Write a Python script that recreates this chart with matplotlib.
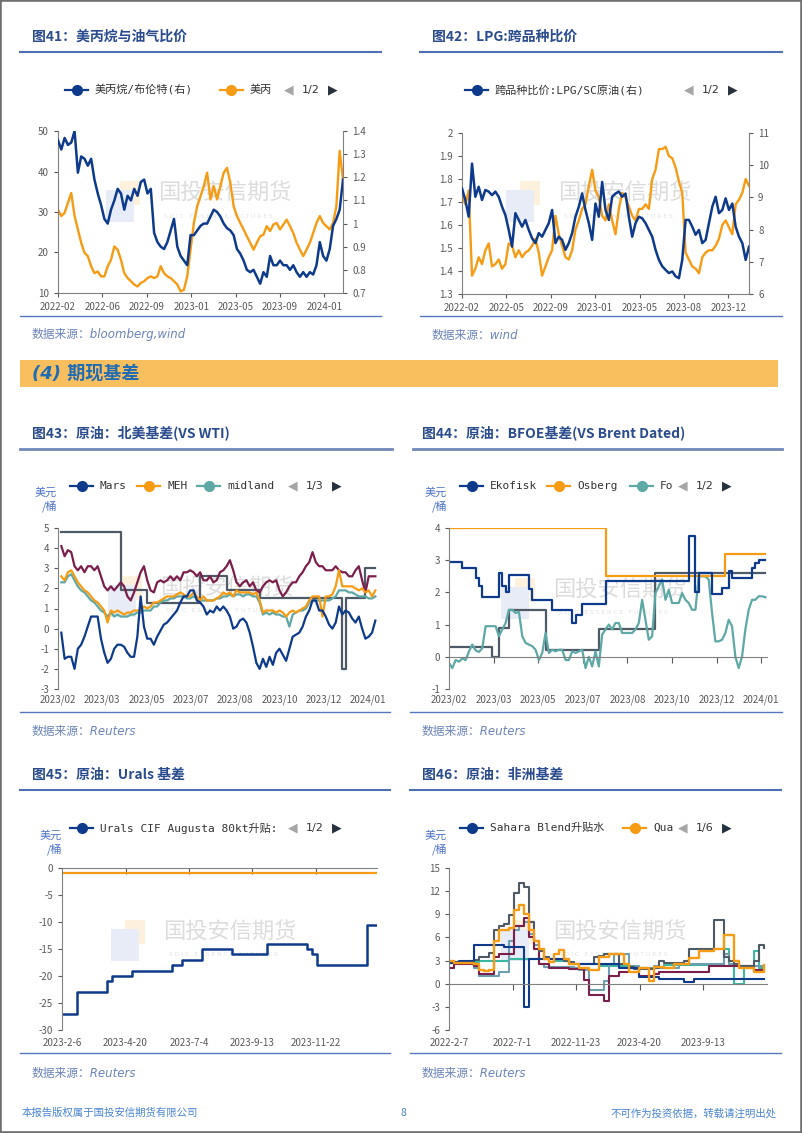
import matplotlib
matplotlib.use("Agg")
import matplotlib.pyplot as plt
import matplotlib.transforms as mtransforms
from matplotlib.lines import Line2D
from matplotlib.patches import Rectangle
import numpy as np

plt.rcParams['font.family'] = ['Noto Sans CJK SC', 'DejaVu Sans']
plt.rcParams['axes.unicode_minus'] = False

# ---------------- data ----------------
# fig 41: US propane vs brent
c41_dates = ['2022-02', '2022-06', '2022-09', '2023-01', '2023-05', '2023-09', '2024-01']
c41_ratio = [1.36, 1.32, 1.37, 1.34, 1.35, 1.40, 1.22, 1.29, 1.28, 1.25,
             1.28, 1.19, 1.13, 1.08, 1.02, 1.00, 1.06, 1.10, 1.15, 1.13,
             1.06, 1.12, 1.10, 1.15, 1.12, 1.18, 1.19, 1.13, 1.15, 0.96,
             0.92, 0.90, 0.89, 0.92, 0.97, 1.02, 0.90, 0.86, 0.84, 0.82,
             0.95, 0.95, 0.97, 0.99, 1.00, 1.00, 1.03, 1.06, 1.05, 1.03,
             1.00, 0.98, 0.97, 0.95, 0.89, 0.87, 0.84, 0.80, 0.79, 0.80,
             0.77, 0.74, 0.79, 0.77, 0.86, 0.82, 0.82, 0.84, 0.82, 0.82,
             0.80, 0.82, 0.79, 0.77, 0.79, 0.77, 0.79, 0.78, 0.82, 0.92,
             0.86, 0.84, 0.89, 0.99, 1.02, 1.06, 1.19]
c41_propane = [30.6, 29.0, 29.8, 32.3, 34.7, 29.0, 25.7, 22.4, 19.9, 19.1,
               16.6, 14.9, 15.3, 14.1, 14.1, 16.6, 18.2, 21.5, 20.7, 18.2,
               14.9, 13.7, 12.9, 12.1, 11.6, 12.5, 12.9, 13.7, 14.1, 13.7,
               14.1, 16.6, 14.9, 14.1, 13.7, 12.9, 12.1, 10.4, 10.8, 14.1,
               20.7, 27.3, 31.4, 33.9, 36.4, 39.7, 33.1, 36.4, 33.1, 36.4,
               39.7, 40.9, 37.2, 31.4, 29.0, 27.3, 25.7, 24.0, 22.4, 20.7,
               22.4, 24.0, 24.4, 26.5, 25.3, 26.9, 27.3, 25.7, 26.9, 28.1,
               26.5, 24.8, 22.4, 20.7, 19.1, 20.7, 22.4, 24.8, 27.3, 29.0,
               27.3, 26.5, 25.7, 27.3, 31.4, 45.1, 38.0]
c41_left_ticks = [10, 20, 30, 40, 50]
c41_right_ticks = [0.7, 0.8, 0.9, 1.0, 1.1, 1.2, 1.3, 1.4]

# fig 42: LPG cross-product ratio
c42_dates = ['2022-02', '2022-05', '2022-09', '2023-01', '2023-05', '2023-08', '2023-12']
c42_ratio = [9.28, 8.92, 8.40, 10.05, 9.02, 9.33, 8.92, 9.23, 9.18, 9.07,
             9.18, 9.02, 8.71, 8.45, 7.99, 7.47, 8.51, 8.30, 8.09, 8.30,
             7.99, 7.73, 7.58, 7.89, 7.78, 7.99, 8.20, 8.61, 7.58, 7.78,
             7.68, 7.37, 7.58, 7.89, 8.40, 8.71, 9.12, 8.61, 8.20, 7.68,
             8.81, 8.40, 9.48, 8.61, 8.30, 9.02, 9.12, 9.18, 9.02, 9.12,
             8.40, 7.78, 8.20, 8.40, 8.35, 8.20, 7.99, 7.78, 7.37, 7.06,
             6.86, 6.75, 6.65, 6.70, 6.55, 6.49, 7.06, 8.30, 8.30, 8.09,
             7.84, 7.99, 7.58, 7.68, 8.20, 8.71, 9.02, 8.51, 8.61, 8.97,
             8.61, 8.81, 8.09, 7.78, 7.58, 7.06, 7.47]
c42_second = [1.73, 1.69, 1.75, 1.38, 1.41, 1.46, 1.43, 1.49, 1.52, 1.42,
              1.43, 1.45, 1.41, 1.43, 1.52, 1.51, 1.46, 1.49, 1.46, 1.48,
              1.49, 1.51, 1.54, 1.48, 1.38, 1.42, 1.46, 1.49, 1.64, 1.56,
              1.51, 1.46, 1.45, 1.49, 1.58, 1.62, 1.67, 1.69, 1.77, 1.84,
              1.75, 1.72, 1.64, 1.62, 1.69, 1.62, 1.56, 1.67, 1.74, 1.72,
              1.68, 1.64, 1.62, 1.67, 1.67, 1.69, 1.67, 1.80, 1.84, 1.93,
              1.93, 1.94, 1.90, 1.89, 1.85, 1.79, 1.74, 1.48, 1.45, 1.42,
              1.41, 1.39, 1.46, 1.48, 1.49, 1.49, 1.51, 1.54, 1.60, 1.62,
              1.59, 1.56, 1.69, 1.71, 1.74, 1.80, 1.77]
c42_left_ticks = [1.3, 1.4, 1.5, 1.6, 1.7, 1.8, 1.9, 2.0]
c42_right_ticks = [6, 7, 8, 9, 10, 11]

# fig 43: North America basis vs WTI
c43_dates = ['2023/02', '2023/03', '2023/05', '2023/07', '2023/08', '2023/10', '2023/12', '2024/01']
c43_mars = [-0.2, -1.5, -1.4, -1.4, -2.0, -1.0, -0.8, -0.4, 0.1, 0.6,
            0.6, 0.6, -0.5, -1.2, -1.7, -1.5, -1.0, -0.8, -0.8, -0.9,
            -1.2, -1.4, -1.4, -0.4, 1.6, 0.1, -0.5, -0.5, -0.8, -0.4,
            -0.1, 0.2, 0.3, 0.5, 0.7, 0.9, 1.3, 1.6, 1.6, 1.9,
            1.9, 1.4, 1.3, 1.1, 0.7, 0.9, 0.8, 1.1, 0.9, 1.1,
            0.9, 0.6, 0.0, 0.1, 0.4, 0.5, 0.3, -0.2, -0.9, -1.7,
            -2.0, -1.5, -1.9, -1.4, -1.8, -1.2, -1.0, -1.3, -1.6, -1.0,
            -0.4, -0.3, -0.2, 0.1, 0.6, 0.9, 1.4, 1.4, 0.9, 0.9,
            0.6, 0.2, 0.0, 0.3, 1.1, 0.7, 0.9, 0.8, 0.5, 0.3,
            0.6, 0.0, -0.5, -0.4, -0.2, 0.4]
c43_meh = [2.6, 2.4, 2.8, 2.9, 2.6, 2.3, 2.1, 1.9, 1.8, 1.6,
           1.4, 1.3, 1.1, 0.9, 0.3, 0.9, 0.8, 0.9, 0.8, 0.7,
           0.8, 0.8, 0.9, 0.9, 0.9, 1.1, 1.0, 1.1, 1.3, 1.3,
           1.4, 1.5, 1.6, 1.6, 1.6, 1.7, 1.8, 1.7, 1.6, 1.6,
           1.8, 1.6, 1.4, 1.6, 1.4, 1.4, 1.4, 1.5, 1.6, 1.8,
           1.7, 1.8, 1.6, 1.9, 1.8, 1.8, 1.8, 1.8, 1.7, 1.8,
           1.4, 0.8, 0.9, 0.9, 0.9, 0.8, 0.9, 0.8, 0.6, 0.8,
           0.9, 0.8, 0.9, 1.0, 1.1, 1.4, 1.6, 1.6, 1.6, 0.6,
           1.6, 1.6, 1.7, 2.1, 2.9, 2.1, 2.1, 2.1, 2.1, 2.0,
           1.9, 2.0, 1.8, 1.9, 1.6, 1.9]
c43_midland = [2.3, 2.3, 2.6, 2.7, 2.4, 2.1, 1.9, 1.8, 1.6, 1.4,
               1.3, 1.1, 0.9, 0.8, 0.6, 0.8, 0.6, 0.7, 0.6, 0.6,
               0.6, 0.7, 0.7, 0.8, 0.8, 0.9, 0.9, 0.9, 1.1, 1.1,
               1.3, 1.4, 1.4, 1.5, 1.5, 1.6, 1.6, 1.6, 1.5, 1.5,
               1.6, 1.5, 1.4, 1.4, 1.4, 1.4, 1.4, 1.5, 1.5, 1.6,
               1.6, 1.7, 1.6, 1.7, 1.7, 1.6, 1.7, 1.7, 1.6, 1.6,
               1.3, 0.7, 0.8, 0.7, 0.8, 0.7, 0.7, 0.6, 0.6, 0.1,
               0.7, 0.8, 0.9, 0.9, 1.0, 1.3, 1.4, 1.4, 1.4, 1.4,
               1.4, 1.4, 1.5, 1.6, 1.9, 1.9, 1.9, 1.8, 1.8, 1.7,
               1.6, 1.6, 1.6, 1.5, 1.5, 1.6]
c43_maroon = [4.1, 3.6, 3.9, 3.8, 3.1, 2.9, 3.1, 2.8, 3.1, 3.1,
              2.9, 3.1, 2.6, 2.1, 1.9, 2.1, 1.9, 2.1, 2.3, 2.1,
              1.6, 1.4, 1.8, 2.3, 2.8, 3.1, 2.4, 1.9, 1.8, 2.3,
              2.4, 2.3, 2.4, 2.6, 2.4, 2.6, 2.4, 2.8, 2.8, 2.9,
              2.8, 2.6, 2.8, 2.4, 2.4, 2.6, 2.3, 2.4, 2.8, 2.9,
              3.1, 3.4, 2.9, 2.3, 2.1, 2.3, 2.4, 2.1, 2.3, 1.9,
              1.8, 2.1, 2.3, 2.4, 2.3, 2.4, 1.9, 1.6, 1.8, 2.1,
              2.3, 2.3, 2.6, 2.8, 3.1, 3.3, 3.8, 3.3, 3.1, 3.1,
              2.9, 2.9, 2.9, 3.1, 2.9, 2.8, 2.8, 2.6, 2.6, 2.9,
              3.1, 2.4, 1.8, 2.6, 2.6, 2.6]
c43_gray_levels = [4.8, 1.9, 1.25, 2.6, 1.9, 1.5, -2.0, 1.5, 3.0]
c43_gray_runs = [18, 8, 16, 8, 10, 25, 1, 6, 4]

# fig 44: BFOE basis vs Brent Dated
c44_dates = ['2023/02', '2023/03', '2023/05', '2023/07', '2023/08', '2023/10', '2023/12', '2024/01']
c44_ekofisk_levels = [2.95, 2.75, 2.45, 2.2, 1.85, 2.6, 2.2, 2.0, 2.55, 2.1, 1.75, 1.45, 1.05,
                      1.3, 1.65, 2.35, 3.75, 2.0, 2.6, 1.95, 2.15, 2.65, 2.45, 2.75, 2.9, 3.0]
c44_ekofisk_runs = [4, 4, 1, 1, 5, 1, 1, 1, 6, 1, 6, 6, 1, 2, 7, 25, 2, 1, 4, 3, 2, 1, 6, 1, 1, 3]
c44_osberg_levels = [4.0, 2.5, 3.2]
c44_osberg_runs = [47, 36, 13]
c44_gray_levels = [0.3, 0.0, 0.9, 1.45, 0.2, 0.85, 2.6]
c44_gray_runs = [13, 2, 3, 11, 16, 17, 34]
c44_fo = [-0.19, -0.35, -0.1, -0.15, -0.05, -0.1, 0.17, 0.38, 0.2, 0.15,
          0.27, 0.95, 0.95, 0.95, 0.95, 0.64, 0.85, 1.05, 1.46, 1.46,
          1.36, 1.4, 0.64, 0.43, 0.38, 0.33, 0.22, -0.1, 0.12, 0.74,
          0.12, 0.22, 0.17, 0.22, 0.22, -0.1, -0.1, 0.17, 0.12, 0.17,
          0.22, -0.35, 0.0, -0.3, 0.17, -0.3, 0.69, 0.85, 1.0, 0.85,
          1.05, 1.05, 0.74, 0.74, 0.74, 0.74, 0.85, 1.05, 1.77, 1.15,
          0.53, 0.64, 1.98, 2.19, 2.4, 1.77, 2.08, 1.67, 1.67, 1.67,
          1.98, 1.77, 1.67, 1.46, 1.46, 2.5, 2.5, 2.5, 2.4, 1.36,
          0.48, 0.48, 0.53, 0.74, 1.15, 0.95, 0.0, -0.35, 0.0, 0.85,
          1.46, 1.77, 1.77, 1.88, 1.88, 1.85]

# fig 45: Urals basis
c45_dates = ['2023-2-6', '2023-4-20', '2023-7-4', '2023-9-13', '2023-11-22']
c45_urals_levels = [-27, -23, -21, -20, -19, -18, -17, -15, -16, -14, -15, -16, -18, -10.5]
c45_urals_runs = [3, 6, 1, 4, 8, 2, 4, 6, 7, 8, 1, 1, 10, 3]
c45_second_levels = [-0.9]
c45_second_runs = [64]

# fig 46: African basis
c46_dates = ['2022-2-7', '2022-7-1', '2022-11-23', '2023-4-20', '2023-9-13']
c46_sahara = [2.7, 2.8, 2.9, 3.0, 3.0, 5.0, 5.0, 5.0, 5.0, 5.0,
              5.0, 4.8, 4.8, 4.8, 4.8, -3.0, 3.2, 3.2, 3.2, 3.2,
              3.2, 3.2, 3.2, 3.2, 2.6, 2.6, 2.6, 2.6, 2.6, 2.6,
              2.6, 2.6, 2.6, 2.6, 2.1, 2.1, 2.1, 2.1, 0.9, 0.9,
              0.9, 0.9, 0.6, 0.6, 0.6, 0.6, 0.6, 0.2, 0.2, 0.6,
              0.6, 0.6, 0.6, 0.6, 0.6, 0.6, 0.6, 0.6, 0.6, 0.6,
              0.6, 0.6, 0.6, 0.6]
c46_qua = [3.0, 2.7, 2.7, 2.7, 2.7, 2.5, 1.8, 1.6, 1.8, 5.5,
           7.0, 7.0, 7.2, 9.5, 10.2, 9.0, 7.0, 5.5, 4.5, 3.2,
           2.8, 3.8, 4.4, 3.2, 2.5, 2.5, 2.0, 2.0, 1.8, 1.8,
           3.5, 3.5, 3.8, 3.8, 3.8, 2.5, 1.5, 1.5, 2.0, 2.0,
           0.3, 2.2, 2.2, 2.0, 2.0, 2.5, 2.5, 2.6, 3.3, 3.3,
           4.3, 4.3, 4.3, 4.5, 4.5, 6.3, 6.3, 3.0, 2.0, 2.0,
           2.0, 1.5, 1.5, 2.4]
c46_slate = [2.8, 2.8, 2.8, 2.8, 3.0, 3.1, 3.5, 3.5, 4.0, 7.0,
             7.5, 7.8, 8.9, 11.7, 13.0, 12.5, 8.0, 5.5, 4.2, 3.5,
             3.2, 3.2, 3.2, 3.0, 2.8, 2.6, 2.5, 2.5, 2.5, 3.4,
             3.6, 3.8, 3.8, 3.8, 2.5, 2.5, 2.2, 1.9, 1.9, 1.9,
             1.9, 2.0, 2.9, 2.7, 2.7, 2.7, 2.7, 3.0, 4.5, 4.5,
             4.5, 4.5, 4.5, 8.2, 8.2, 3.5, 3.0, 2.5, 2.3, 2.3,
             2.3, 3.0, 5.0, 4.6]
c46_maroon = [2.0, 2.6, 2.6, 2.6, 2.6, 2.3, 1.3, 1.3, 1.3, 3.5,
              3.8, 3.8, 3.8, 7.5, 7.5, 8.5, 6.0, 4.5, 2.5, 2.5,
              2.0, 2.0, 2.0, 2.0, 1.9, 1.9, 1.9, 0.5, -1.5, -1.5,
              -1.5, -2.2, 1.0, 1.0, 1.5, 1.5, 2.0, 2.0, 1.0, 1.0,
              1.0, 1.2, 1.5, 1.5, 1.5, 1.5, 1.5, 1.5, 1.5, 1.5,
              1.5, 1.5, 2.3, 2.3, 2.3, 2.3, 2.3, 2.3, 2.3, 2.3,
              2.3, 1.8, 1.8, 1.7]
c46_steel = [2.8, 2.8, 2.8, 2.8, 2.8, 2.0, 1.0, 1.0, 1.0, 1.0,
             1.5, 1.5, 5.5, 7.0, 7.5, 8.0, 6.5, 5.0, 2.5, 2.2,
             2.2, 2.2, 2.2, 2.2, 2.2, 2.0, 1.8, 1.8, -0.8, -0.8,
             -0.8, 0.3, 2.5, 3.8, 3.8, 3.8, 2.3, 2.3, 2.0, 2.0,
             2.0, 2.3, 2.1, 2.1, 2.1, 2.1, 2.5, 2.5, 2.5, 2.5,
             2.5, 2.5, 2.5, 2.5, 2.5, 3.8, 2.5, 2.3, 2.3, 2.3,
             2.3, 2.3, 2.3, 2.2]
c46_green = [2.7, 2.7, 2.7, 2.8, 2.8, 2.8, 2.9, 2.9, 3.0, 3.0,
             3.0, 3.0, 3.2, 3.2, 3.2, 3.2, 3.2, 3.2, 3.2, 3.2,
             3.2, 3.0, 3.0, 3.0, 2.8, 2.6, 2.5, 2.5, 2.5, 2.5,
             2.3, 2.3, 2.3, 2.3, 2.3, 2.3, 2.0, 2.0, 2.0, 2.0,
             2.0, 2.2, 2.2, 2.4, 2.4, 2.4, 2.4, 2.4, 2.4, 2.4,
             2.4, 2.4, 2.4, 2.4, 2.4, 4.5, 2.4, 0.0, 0.0, 2.0,
             2.0, 4.2, 2.0, 2.0]

# ---------------- style ----------------
BLUE = '#0e3a8c'
ORANGE = '#f59b14'
TEAL = '#5ea8a6'
MAROON = '#7a1f4c'
SLATE = '#4e5a66'
STEEL = '#6e9fb0'
GREEN = '#3cb7a2'
TITLE = '#2a4b8d'
TICK = '#595959'
SPINE = '#808080'

W, H = 802, 1133
fig = plt.figure(figsize=(W / 100, H / 100), dpi=100)


def fx(x):
    return x / W


def fy(y):
    return 1 - y / H


def hline(x0, x1, y, color, lw):
    fig.add_artist(Line2D([fx(x0), fx(x1)], [fy(y), fy(y)], color=color, lw=lw))


def rect(x, y, w, h, color, z=-2):
    fig.add_artist(Rectangle((fx(x), fy(y + h)), w / W, h / H, color=color, lw=0, zorder=z))


def header(x, y, text, x0, x1, ly, lc, lw):
    fig.text(fx(x), fy(y), text, fontsize=10, fontweight='bold', color=TITLE, va='center')
    hline(x0, x1, ly, lc, lw)


def source(x, y, text, x0, x1, ly):
    hline(x0, x1, ly, '#5677bd', 1.0)
    fig.text(fx(x), fy(y), text, fontsize=8.5, style='italic', color='#6a84b8', va='center',
             family=['DejaVu Sans', 'Noto Sans CJK SC'])


def legend(y, items, px, page):
    for x, color, label in items:
        fig.add_artist(Line2D([fx(x), fx(x + 23)], [fy(y)] * 2, color=color, lw=1.6))
        fig.add_artist(Line2D([fx(x + 11.5)], [fy(y)], color=color, marker='o', ms=7, lw=0))
        fig.text(fx(x + 30), fy(y), label, fontsize=8, color='#333333', va='center',
                 family=['DejaVu Sans Mono', 'Noto Sans CJK SC'])
    fig.text(fx(px), fy(y), '◀', fontsize=9, color='#a6a6a6', ha='center', va='center', family=['DejaVu Sans'])
    fig.text(fx(px + 22), fy(y), page, fontsize=8, color='#333333', ha='center', va='center',
             family=['DejaVu Sans'])
    fig.text(fx(px + 44), fy(y), '▶', fontsize=9, color='#26323f', ha='center', va='center', family=['DejaVu Sans'])


def unit_label(xr, y):
    fig.text(fx(xr), fy(y), '美元', fontsize=8, color='#4f74c8', ha='right', va='center')
    fig.text(fx(xr), fy(y + 13), '/桶', fontsize=8, color='#4f74c8', ha='right', va='center')


def watermark(x, y):
    rect(x - 52, y - 3, 28, 32, '#e8ecf6')
    rect(x - 38, y - 12, 20, 24, '#fdf0dc', z=-2.5)
    fig.text(fx(x), fy(y), '国投安信期货', fontsize=16, color='#dcdcdc', va='center', zorder=-1)
    fig.text(fx(x + 6), fy(y + 23), 'S D I C   E S S E N C E   F U T U R E S', fontsize=4.3,
             color='#e2e2e2', va='center', zorder=-1, family=['DejaVu Sans'])


def add_ax(l, t, r, b):
    ax = fig.add_axes([fx(l), fy(b), (r - l) / W, (b - t) / H])
    ax.patch.set_visible(False)
    for s in ['top', 'right']:
        ax.spines[s].set_visible(False)
    for s in ['left', 'bottom']:
        ax.spines[s].set_color(SPINE)
    ax.tick_params(labelsize=7, colors=TICK, length=3, width=0.8)
    return ax


def date_labels(ax, pos, labels, dy):
    trans = mtransforms.blended_transform_factory(ax.transData, ax.transAxes)
    h = ax.get_position().height * H
    for p, lab in zip(pos, labels):
        ax.text(p, -dy / h, lab, transform=trans, ha='center', va='center', fontsize=7,
                color=TICK, clip_on=False)


def zero_axis(ax, ticks):
    ax.spines['bottom'].set_position(('data', 0))
    ax.set_xticks(ticks)
    ax.tick_params(axis='x', labelbottom=False, length=4, direction='out')


def steps(levels, runs):
    return np.repeat(levels, runs)


# page frame
fig.add_artist(Rectangle((0, 0), 1, 1, fill=False, edgecolor='#6f6f6f', lw=2.6))

# ---------- fig 41 ----------
header(32, 37, '图41：美丙烷与油气比价', 20, 381, 52, '#4f6fb3', 1.5)
legend(90, [(65, BLUE, '美丙烷/布伦特(右)'), (220, ORANGE, '美丙')], 289, '1/2')
watermark(158, 193)
ax = add_ax(58, 131, 343, 293)
x41 = np.arange(len(c41_ratio))
ax.plot(x41, c41_propane, color=ORANGE, lw=1.7)
ax.set_ylim(10, 50)
ax.set_yticks(c41_left_ticks)
ax.set_xlim(0, len(x41) - 1)
ax.set_xticks(np.arange(len(c41_dates)) * 13.4, c41_dates)
ax2 = ax.twinx()
ax2.plot(x41, c41_ratio, color=BLUE, lw=1.8)
ax2.set_ylim(0.7, 1.4)
ax2.set_yticks(c41_right_ticks, [f'{v:g}' for v in c41_right_ticks])
for s in ['top', 'left', 'bottom']:
    ax2.spines[s].set_visible(False)
ax2.spines['right'].set_color(SPINE)
ax2.tick_params(labelsize=7, colors=TICK, length=3, width=0.8)
source(32, 335, '数据来源：bloomberg,wind', 20, 381, 316)

# ---------- fig 42 ----------
header(432, 37, '图42：LPG:跨品种比价', 420, 782, 52, '#4f6fb3', 1.5)
legend(90, [(465, BLUE, '跨品种比价:LPG/SC原油(右)')], 689, '1/2')
watermark(558, 193)
ax = add_ax(462, 133, 749, 294)
x42 = np.arange(len(c42_ratio))
ax.plot(x42, c42_second, color=ORANGE, lw=1.7)
ax.set_ylim(1.3, 2.0)
ax.set_yticks(c42_left_ticks, [f'{v:g}' for v in c42_left_ticks])
ax.set_xlim(0, len(x42) - 1)
ax.set_xticks(np.arange(len(c42_dates)) * 13.3, c42_dates)
ax2 = ax.twinx()
ax2.plot(x42, c42_ratio, color=BLUE, lw=1.8)
ax2.set_ylim(6, 11)
ax2.set_yticks(c42_right_ticks)
for s in ['top', 'left', 'bottom']:
    ax2.spines[s].set_visible(False)
ax2.spines['right'].set_color(SPINE)
ax2.tick_params(labelsize=7, colors=TICK, length=3, width=0.8)
source(432, 335, '数据来源：wind', 420, 782, 316)

# ---------- section band ----------
rect(20, 360, 758, 27, '#f9bf5e', z=1)
fig.text(fx(32), fy(374), '(4) 期现基差', fontsize=13, fontweight='bold', style='italic',
         color='#1f6cb5', va='center', family=['DejaVu Sans', 'Noto Sans CJK SC'])

# ---------- fig 43 ----------
header(32, 433, '图43：原油：北美基差(VS WTI)', 20, 392, 449, '#7089b8', 2.0)
legend(486, [(70, BLUE, 'Mars'), (137, ORANGE, 'MEH'), (197, TEAL, 'midland')], 293, '1/3')
unit_label(57, 493)
watermark(160, 588)
ax = add_ax(58, 528, 377, 689)
x43 = np.arange(len(c43_mars))
ax.plot(x43, steps(c43_gray_levels, c43_gray_runs), color=SLATE, lw=1.6, drawstyle='steps-post')
ax.plot(x43, c43_maroon, color=MAROON, lw=1.6)
ax.plot(x43, c43_midland, color=TEAL, lw=1.6)
ax.plot(x43, c43_meh, color=ORANGE, lw=1.6)
ax.plot(x43, c43_mars, color=BLUE, lw=1.6)
ax.set_ylim(-3, 5)
ax.set_yticks(range(-3, 6))
ax.set_xlim(-1, 95.5)
ax.spines['bottom'].set_visible(False)
ax.set_xticks([])
date_labels(ax, -1 + np.arange(len(c43_dates)) * 13.4, c43_dates, 11)
source(32, 731, '数据来源：Reuters', 20, 390, 712)

# ---------- fig 44 ----------
header(422, 433, '图44：原油：BFOE基差(VS Brent Dated)', 413, 782, 449, '#7089b8', 2.0)
legend(486, [(460, BLUE, 'Ekofisk'), (547, ORANGE, 'Osberg'), (630, TEAL, 'Fo')], 683, '1/2')
unit_label(447, 493)
watermark(553, 590)
ax = add_ax(449, 528, 767, 689)
x44 = np.arange(len(c44_fo))
ax.plot(x44, steps(c44_gray_levels, c44_gray_runs), color=SLATE, lw=1.6, drawstyle='steps-post')
ax.plot(x44, c44_fo, color=TEAL, lw=1.6)
ax.plot(x44, steps(c44_osberg_levels, c44_osberg_runs), color=ORANGE, lw=1.6, drawstyle='steps-post')
ax.plot(x44, steps(c44_ekofisk_levels, c44_ekofisk_runs), color=BLUE, lw=1.6, drawstyle='steps-post')
ax.set_ylim(-1, 4)
ax.set_yticks(range(-1, 5))
ax.set_xlim(0, 95.5)
pos44 = np.arange(len(c44_dates)) * 13.4
zero_axis(ax, pos44[1:])
date_labels(ax, pos44, c44_dates, 11)
source(422, 731, '数据来源：Reuters', 410, 782, 712)

# ---------- fig 45 ----------
header(32, 775, '图45：原油：Urals 基差', 20, 390, 790, '#4f6fb3', 1.5)
legend(828, [(70, BLUE, 'Urals CIF Augusta 80kt升贴:')], 293, '1/2')
unit_label(62, 836)
watermark(163, 932)
ax = add_ax(62, 868, 377, 1030)
x45 = np.arange(sum(c45_urals_runs))
ax.plot(x45, steps(c45_second_levels, c45_second_runs), color=ORANGE, lw=1.6)
ax.plot(x45, steps(c45_urals_levels, c45_urals_runs), color=BLUE, lw=1.8, drawstyle='steps-post')
ax.set_ylim(-30, 0)
ax.set_yticks(range(-30, 1, 5))
ax.set_xlim(0, 63)
pos45 = np.arange(len(c45_dates)) * 12.7
zero_axis(ax, pos45[1:])
date_labels(ax, pos45, c45_dates, 13)
source(32, 1073, '数据来源：Reuters', 20, 390, 1053)

# ---------- fig 46 ----------
header(422, 775, '图46：原油：非洲基差', 410, 781, 790, '#4f6fb3', 1.5)
legend(828, [(460, BLUE, 'Sahara Blend升贴水'), (623, ORANGE, 'Qua')], 683, '1/6')
unit_label(447, 836)
watermark(553, 932)
ax = add_ax(449, 868, 767, 1030)
x46 = np.arange(len(c46_sahara))
ax.plot(x46, c46_green, color=GREEN, lw=1.5, drawstyle='steps-post')
ax.plot(x46, c46_steel, color=STEEL, lw=1.5, drawstyle='steps-post')
ax.plot(x46, c46_maroon, color=MAROON, lw=1.5, drawstyle='steps-post')
ax.plot(x46, c46_slate, color=SLATE, lw=1.5, drawstyle='steps-post')
ax.plot(x46, c46_sahara, color=BLUE, lw=1.5, drawstyle='steps-post')
ax.plot(x46, c46_qua, color=ORANGE, lw=1.7, drawstyle='steps-post')
ax.set_ylim(-6, 15)
ax.set_yticks(range(-6, 16, 3))
ax.set_xlim(0, 63.6)
pos46 = np.arange(len(c46_dates)) * 12.7
zero_axis(ax, pos46[1:])
date_labels(ax, pos46, c46_dates, 13)
source(422, 1073, '数据来源：Reuters', 410, 781, 1053)

# ---------- footer ----------
fig.text(fx(22), fy(1113), '本报告版权属于国投安信期货有限公司', fontsize=7.5, color='#4a84d0', va='center')
fig.text(fx(403), fy(1113), '8', fontsize=7.5, color='#4a84d0', va='center', ha='center')
fig.text(fx(777), fy(1113), '不可作为投资依据，转载请注明出处', fontsize=7.5, color='#4a84d0', va='center', ha='right')

fig.savefig('out.png', dpi=100)
